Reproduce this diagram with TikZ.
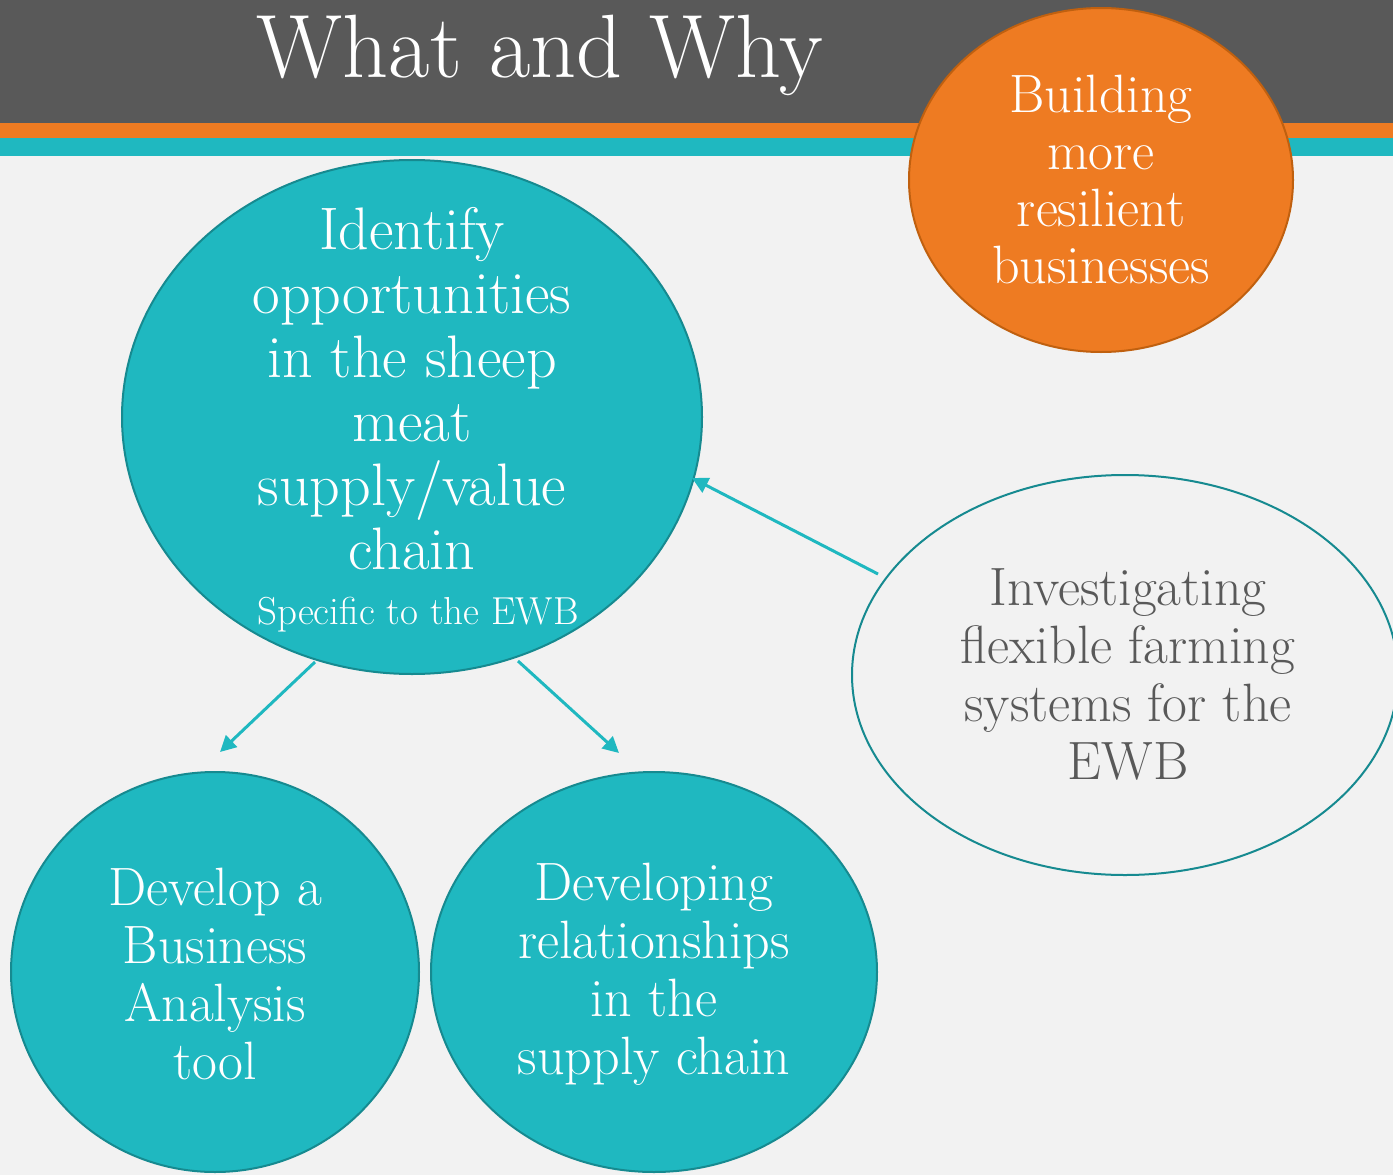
\documentclass[tikz,border=0pt]{standalone}
\usetikzlibrary{arrows.meta}
\definecolor{bg}{HTML}{F2F2F2}
\definecolor{hdr}{HTML}{595959}
\definecolor{org}{HTML}{EE7B22}
\definecolor{orgdark}{HTML}{C0600F}
\definecolor{teal}{HTML}{1FB8C0}
\definecolor{tealdark}{HTML}{168A90}
\definecolor{graytxt}{HTML}{595959}
\tikzset{
  blob/.style={ellipse, draw=tealdark, line width=2pt, fill=teal, text=white, align=center, inner sep=0pt},
  orgblob/.style={ellipse, draw=orgdark, line width=2pt, fill=org, text=white, align=center, inner sep=0pt},
  openblob/.style={ellipse, draw=tealdark, line width=2pt, fill=bg, text=graytxt, align=center, inner sep=0pt},
  conn/.style={draw=teal, line width=3pt, -{Triangle[length=16pt,width=16pt]}}
}
\usetikzlibrary{shapes.geometric}
\begin{document}
\begin{tikzpicture}[x=1pt,y=-1pt]
\useasboundingbox (0,0) rectangle (1393,1175);
\fill[bg] (0,0) rectangle (1393,1175);
\fill[hdr] (0,0) rectangle (1393,123);
\fill[org] (0,123) rectangle (1393,138);
\fill[teal] (0,138) rectangle (1393,156);
\node[text=white, inner sep=0pt, anchor=base] (title) at (540,77) {\fontsize{90}{96}\selectfont What and Why};
\node[orgblob, minimum width=384pt, minimum height=344pt] (build) at (1101,180) {};
\node[text=white, align=center, font=\fontsize{54}{57}\selectfont] (buildt) at (1101,179) {Building\\more\\resilient\\businesses};
\node[blob, minimum width=580pt, minimum height=514pt] (ident) at (412,417) {};
\node[text=white, align=center, font=\fontsize{60}{64}\selectfont, anchor=north] (identt) at (412,204) {Identify\\opportunities\\in the sheep\\meat\\supply/value\\chain};
\node[text=white, font=\fontsize{39}{40}\selectfont] (spec) at (418,615) {Specific to the EWB};
\node[blob, minimum width=408pt, minimum height=400pt] (dev) at (215,972) {};
\node[text=white, align=center, font=\fontsize{54}{58}\selectfont] (devt) at (215,974) {Develop a\\Business\\Analysis\\tool};
\node[blob, minimum width=446pt, minimum height=400pt] (rel) at (654,972) {};
\node[text=white, align=center, font=\fontsize{54}{58}\selectfont] (relt) at (654,974) {Developing\\relationships\\in the\\supply chain};
\node[openblob, minimum width=546pt, minimum height=400pt] (inv) at (1125,675) {};
\node[text=graytxt, align=center, font=\fontsize{54}{58}\selectfont] (invt) at (1128,674) {Investigating\\flexible farming\\systems for the\\EWB};
\coordinate (a1s) at (315,662); \coordinate (a1e) at (220,752);
\coordinate (a2s) at (518,661); \coordinate (a2e) at (619,753);
\coordinate (a3s) at (878,574); \coordinate (a3e) at (692,478);
\draw[conn] (a1s) -- (a1e);
\draw[conn] (a2s) -- (a2e);
\draw[conn] (a3s) -- (a3e);
\end{tikzpicture}
\end{document}
